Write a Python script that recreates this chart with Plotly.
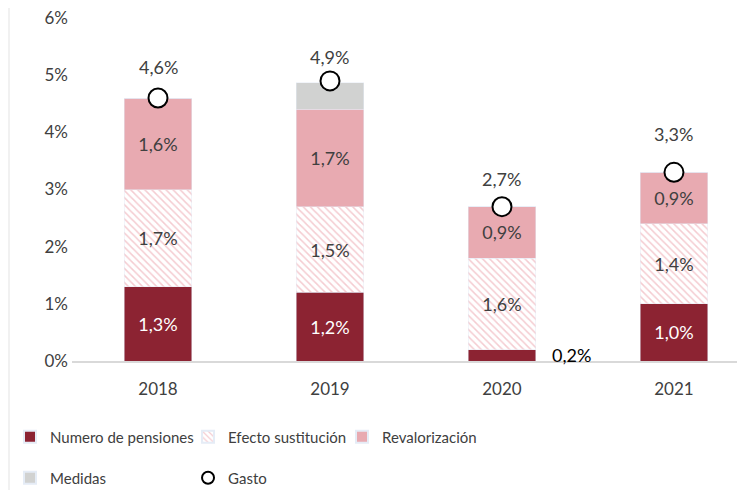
import plotly.graph_objects as go

years = ["2018", "2019", "2020", "2021"]
numero = [1.3, 1.2, 0.2, 1.0]
efecto = [1.7, 1.5, 1.6, 1.4]
revalor = [1.6, 1.7, 0.9, 0.9]
medidas = [0.0, 0.47, 0.0, 0.0]
gasto = [4.6, 4.9, 2.7, 3.3]
y_ticks = [0, 1, 2, 3, 4, 5, 6]

# styles (not data)
gasto_label_shift = [31, 24, 28, 38]
FONT = "Lato"
TXT = "#404040"
DARK = "#8C2332"
PINK = "#E8AAB1"
GREY = "#D1D2D1"

def fmt(v):
    return f"{v:.1f}".replace(".", ",") + "%"

def lab(vals, hide=()):
    return [("" if i in hide else fmt(v)) for i, v in enumerate(vals)]

fig = go.Figure()
bw = 0.395
fig.add_bar(x=years, y=numero, name="Numero de pensiones", marker_color=DARK, width=bw,
            text=lab(numero, hide=(2,)), textposition="inside", insidetextanchor="middle",
            textfont=dict(color="white", size=18, family=FONT), legend="legend")
fig.add_bar(x=years, y=efecto, name="Efecto sustitución", width=bw,
            marker=dict(color="white", pattern=dict(shape="\\", fgcolor="#EA9AA4", bgcolor="white",
                                                    size=5, solidity=0.3)),
            text=lab(efecto), textposition="inside", insidetextanchor="middle",
            textfont=dict(color=TXT, size=18, family=FONT), legend="legend2")
fig.add_bar(x=years, y=revalor, name="Revalorización", marker_color=PINK, width=bw,
            text=lab(revalor), textposition="inside", insidetextanchor="middle",
            textfont=dict(color=TXT, size=18, family=FONT), legend="legend3")
fig.add_bar(x=years, y=medidas, name="Medidas", marker_color=GREY, width=bw,
            legend="legend4")
fig.add_scatter(x=years, y=gasto, name="Gasto", mode="markers",
                marker=dict(symbol="circle", size=19, color="white", line=dict(color="black", width=2)),
                legend="legend5")

for i, g in enumerate(gasto):
    fig.add_annotation(x=i, y=g, text=fmt(g), showarrow=False,
                       yshift=gasto_label_shift[i], font=dict(size=18, color=TXT, family=FONT))

fig.add_annotation(x=2, y=numero[2] / 2, text=fmt(numero[2]),
                   showarrow=False, xshift=70, font=dict(size=18, color="black", family=FONT))

fig.add_shape(type="line", xref="paper", yref="paper", x0=-0.0936, x1=-0.0936, y0=-0.4, y1=1.06,
              line=dict(color="#E3E3E3", width=1))

def leg(x, y):
    return dict(orientation="h", x=x, xanchor="left", y=y, yanchor="middle",
                font=dict(size=15, color=TXT, family=FONT), bgcolor="rgba(0,0,0,0)",
                itemwidth=30, itemsizing="constant")

row1, row2 = -0.2216, -0.341
col1, col2, col3 = -0.0921, 0.1724, 0.4012

fig.update_layout(
    width=737, height=482,
    margin=dict(l=64, r=0, t=10, b=129, autoexpand=False),
    barmode="stack",
    plot_bgcolor="white", paper_bgcolor="white",
    font=dict(family=FONT, size=17, color=TXT),
    xaxis=dict(type="category", range=[-0.5, 3.413], showline=True, linecolor="#D9D9D9", linewidth=1.5,
               ticks="", ticklabelstandoff=12, tickfont=dict(size=17, color=TXT, family=FONT),
               showgrid=False, zeroline=False),
    yaxis=dict(range=[0, 6], tickvals=y_ticks, ticktext=[f"{t}%" for t in y_ticks],
               showgrid=False, zeroline=False, showline=False, ticklabelstandoff=3,
               ticklabeloverflow="allow", tickfont=dict(size=17, color=TXT, family=FONT)),
    legend=leg(col1, row1),
    legend2=leg(col2, row1),
    legend3=leg(col3, row1),
    legend4=leg(col1, row2),
    legend5=leg(col2, row2),
    showlegend=True,
)

fig.write_html("out.html")
